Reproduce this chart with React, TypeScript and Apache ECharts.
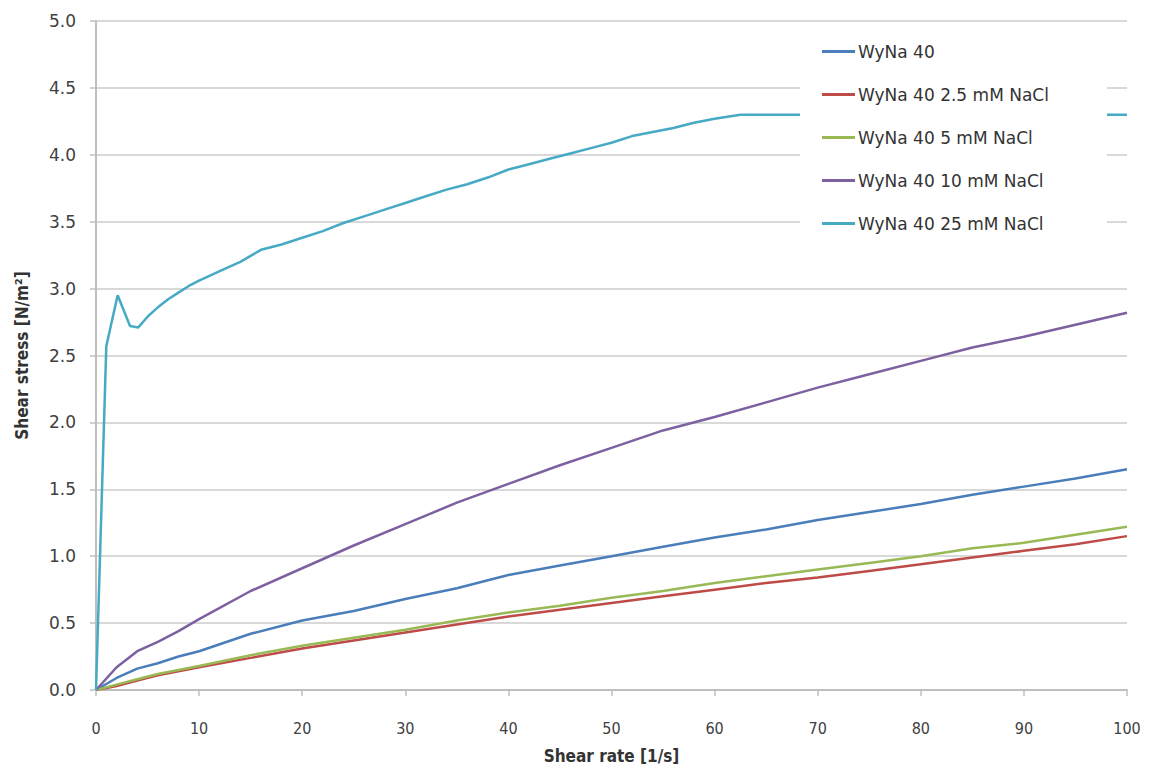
import React, { useEffect, useRef } from "react";
import * as echarts from "echarts";

const seriesNames = [
  "WyNa 40",
  "WyNa 40 2.5 mM NaCl",
  "WyNa 40 5 mM NaCl",
  "WyNa 40 10 mM NaCl",
  "WyNa 40 25 mM NaCl",
];
const colors = ["#4A7EBB", "#BE4B48", "#98B954", "#7D60A0", "#46AAC5"];

const yTicks = [0, 0.5, 1, 1.5, 2, 2.5, 3, 3.5, 4, 4.5, 5];
const xTicks = [0, 10, 20, 30, 40, 50, 60, 70, 80, 90, 100];

const rate = [0, 2, 4, 6, 8, 10, 15, 20, 25, 30, 35, 40, 45, 50, 55, 60, 65, 70, 75, 80, 85, 90, 95, 100];
const wyna40 = [0, 0.09, 0.16, 0.2, 0.25, 0.29, 0.42, 0.52, 0.59, 0.68, 0.76, 0.86, 0.93, 1.0, 1.07, 1.14, 1.2, 1.27, 1.33, 1.39, 1.46, 1.52, 1.58, 1.65];
const nacl2_5 = [0, 0.03, 0.07, 0.11, 0.14, 0.17, 0.24, 0.31, 0.37, 0.43, 0.49, 0.55, 0.6, 0.65, 0.7, 0.75, 0.8, 0.84, 0.89, 0.94, 0.99, 1.04, 1.09, 1.15];
const nacl5 = [0, 0.04, 0.08, 0.12, 0.15, 0.18, 0.26, 0.33, 0.39, 0.45, 0.52, 0.58, 0.63, 0.69, 0.74, 0.8, 0.85, 0.9, 0.95, 1.0, 1.06, 1.1, 1.16, 1.22];
const nacl10 = [0, 0.17, 0.29, 0.36, 0.44, 0.53, 0.74, 0.91, 1.08, 1.24, 1.4, 1.54, 1.68, 1.81, 1.94, 2.04, 2.15, 2.26, 2.36, 2.46, 2.56, 2.64, 2.73, 2.82];

const cyanRate = [0, 1, 2.1, 3.3, 4.1, 5, 6, 7, 8, 9, 10, 12, 14, 16, 18, 20, 22, 24, 26, 28, 30, 32, 34, 36, 38, 40, 42, 44, 46, 48, 50, 52, 54, 56, 58, 60, 62.5, 70, 80, 90, 100];
const nacl25 = [0, 2.57, 2.95, 2.72, 2.71, 2.79, 2.86, 2.92, 2.97, 3.02, 3.06, 3.13, 3.2, 3.29, 3.33, 3.38, 3.43, 3.49, 3.54, 3.59, 3.64, 3.69, 3.74, 3.78, 3.83, 3.89, 3.93, 3.97, 4.01, 4.05, 4.09, 4.14, 4.17, 4.2, 4.24, 4.27, 4.3, 4.3, 4.3, 4.3, 4.3];

const pairs = (xs: number[], ys: number[]) => xs.map((x, i) => [x, ys[i]]);

export default function App() {
  const ref = useRef<HTMLDivElement>(null);
  useEffect(() => {
    if (!ref.current) return;
    const chart = echarts.init(ref.current, null, { renderer: "svg" });
    const data = [
      pairs(rate, wyna40),
      pairs(rate, nacl2_5),
      pairs(rate, nacl5),
      pairs(rate, nacl10),
      pairs(cyanRate, nacl25),
    ];
    chart.setOption({
      animation: false,
      backgroundColor: "#ffffff",
      color: colors,
      grid: { left: 96, right: 25, top: 21, bottom: 78 },
      legend: {
        orient: "vertical",
        left: 800,
        top: 25,
        itemWidth: 33,
        itemHeight: 3,
        itemGap: 26,
        icon: "rect",
        padding: [18, 58, 14, 22],
        backgroundColor: "#ffffff",
        textStyle: { fontFamily: "DejaVu Sans", fontSize: 17, color: "#333333", padding: [0, 0, 0, -2] },
        data: seriesNames,
      },
      xAxis: {
        type: "value",
        min: 0,
        max: 100,
        interval: 10,
        name: "Shear rate [1/s]",
        nameLocation: "middle",
        nameGap: 57,
        nameTextStyle: { fontFamily: "DejaVu Sans Condensed", fontWeight: "bold", fontSize: 17, color: "#333333" },
        axisLine: { show: true, lineStyle: { color: "#bfbfbf", width: 2 } },
        axisTick: { show: true, length: 6, lineStyle: { color: "#bfbfbf", width: 1.5 } },
        axisLabel: {
          fontFamily: "DejaVu Sans Condensed",
          fontSize: 16,
          color: "#404040",
          margin: 30,
          formatter: (v: number) => (xTicks.includes(v) ? String(v) : ""),
        },
        splitLine: { show: false },
      },
      yAxis: {
        type: "value",
        min: 0,
        max: 5,
        interval: 0.5,
        name: "Shear stress [N/m²]",
        nameLocation: "middle",
        nameGap: 66,
        nameRotate: 90,
        nameTextStyle: { fontFamily: "DejaVu Sans Condensed", fontWeight: "bold", fontSize: 17, color: "#333333" },
        axisLine: { show: true, lineStyle: { color: "#bfbfbf", width: 2 } },
        axisTick: { show: true, length: 6, lineStyle: { color: "#bfbfbf", width: 1.5 } },
        axisLabel: {
          fontFamily: "DejaVu Sans",
          fontSize: 17,
          color: "#404040",
          margin: 20,
          formatter: (v: number) => (yTicks.includes(v) ? v.toFixed(1) : ""),
        },
        splitLine: { show: true, lineStyle: { color: "#d9d9d9", width: 2 } },
      },
      series: seriesNames.map((name, i) => ({
        name,
        type: "line",
        data: data[i],
        showSymbol: false,
        symbol: "none",
        lineStyle: { width: 2.5, color: colors[i] },
        itemStyle: { color: colors[i] },
        z: 2,
      })),
    });
    return () => chart.dispose();
  }, []);
  return <div ref={ref} style={{ width: 1152, height: 769, position: "absolute", left: 0, top: 0 }} />;
}
